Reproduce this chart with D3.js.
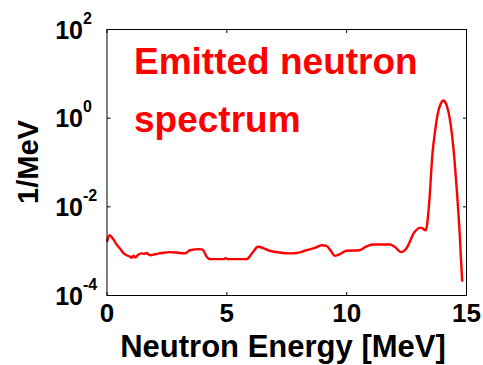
<!DOCTYPE html>
<html>
<head>
<meta charset="utf-8">
<script src="https://cdn.jsdelivr.net/npm/d3@7"></script>
<style>
  html, body { margin: 0; padding: 0; background: #fff; }
  svg { display: block; font-family: Arial, "Liberation Sans", sans-serif; font-weight: bold; }
</style>
</head>
<body>
<div id="chart"></div>
<script>
// emitted neutron spectrum (energy in MeV, intensity in 1/MeV)
const energy = [0.00, 0.10, 0.25, 0.40, 0.54, 0.70, 0.82, 0.95, 1.03, 1.10, 1.18, 1.30, 1.45, 1.55, 1.65, 1.79,
  2.00, 2.30, 2.62, 2.90, 3.25, 3.46, 3.87, 4.00, 4.15, 4.30, 4.85, 4.95, 5.05, 5.82, 6.05, 6.30, 6.79, 7.20,
  7.62, 8.00, 8.32, 8.70, 8.95, 9.15, 9.35, 9.50, 9.65, 9.99, 10.54, 10.80, 11.10, 11.80, 12.00, 12.28, 12.49,
  12.83, 13.10, 13.30, 13.44, 13.58, 13.70, 13.80, 13.92, 14.04, 14.15, 14.29, 14.40, 14.50, 14.60, 14.70, 14.82];
const intensity = [1.62e-3, 2.29e-3, 1.91e-3, 1.41e-3, 1.15e-3, 8.9e-4, 8.1e-4, 7.6e-4, 7.1e-4, 7.9e-4, 7.2e-4,
  8.3e-4, 8.9e-4, 8.7e-4, 9.1e-4, 8.1e-4, 8.5e-4, 9.1e-4, 9.5e-4, 9.3e-4, 8.9e-4, 1.05e-3, 1.11e-3, 1.07e-3,
  7.6e-4, 6.6e-4, 6.6e-4, 6.9e-4, 6.6e-4, 6.6e-4, 8.9e-4, 1.26e-3, 1.02e-3, 9.3e-4, 8.9e-4, 9.3e-4, 1.05e-3,
  1.20e-3, 1.36e-3, 1.32e-3, 1.00e-3, 7.9e-4, 8.3e-4, 1.02e-3, 1.05e-3, 1.26e-3, 1.41e-3, 1.41e-3, 1.26e-3,
  9.5e-4, 1.15e-3, 2.69e-3, 3.39e-3, 2.95e-3, 1.17e-2, 0.158, 0.56, 1.26, 2.09, 2.51, 2.09, 1.06, 0.40, 0.112,
  0.0224, 3.55e-3, 2.04e-4];

const xTicks = [0, 5, 10, 15];
const yTickExp = [2, 0, -2, -4];
const titleLines = ["Emitted neutron", "spectrum"];

const W = 483, H = 365;
const M = { top: 29.5, right: 16.5, bottom: 69.5, left: 107 };

const svg = d3.select("#chart").append("svg").attr("width", W).attr("height", H);

const x = d3.scaleLinear().domain([0, 15]).range([M.left, W - M.right]);
const y = d3.scaleLog().domain([1e-4, 1e2]).range([H - M.bottom, M.top]);

const pts = energy.map((e, i) => [e, intensity[i]]);

// curve
const line = d3.line().x((d) => x(d[0])).y((d) => y(d[1])).curve(d3.curveMonotoneX);
svg.append("path").datum(pts).attr("d", line)
  .attr("fill", "none").attr("stroke", "#ff0000").attr("stroke-width", 2.4).attr("stroke-linejoin", "round");

// frame
svg.append("rect").attr("x", M.left).attr("y", M.top)
  .attr("width", W - M.right - M.left).attr("height", H - M.bottom - M.top)
  .attr("fill", "none").attr("stroke", "#000").attr("stroke-width", 1);

// inward ticks, all four sides (matlab box)
const tl = 3.5;
const tk = svg.append("g").attr("stroke", "#000").attr("stroke-width", 1);
xTicks.forEach((t) => {
  tk.append("line").attr("x1", x(t)).attr("x2", x(t)).attr("y1", y(1e-4)).attr("y2", y(1e-4) - tl);
  tk.append("line").attr("x1", x(t)).attr("x2", x(t)).attr("y1", y(1e2)).attr("y2", y(1e2) + tl);
});
yTickExp.forEach((p) => {
  const v = Math.pow(10, p);
  tk.append("line").attr("x1", x(0)).attr("x2", x(0) + tl).attr("y1", y(v)).attr("y2", y(v));
  tk.append("line").attr("x1", x(15)).attr("x2", x(15) - tl).attr("y1", y(v)).attr("y2", y(v));
});

// x tick labels
svg.append("g").selectAll("text").data(xTicks).join("text")
  .attr("x", (d) => x(d)).attr("y", 322).attr("text-anchor", "middle")
  .attr("font-size", 26).text((d) => d);

// y tick labels 10^n
const yl = svg.append("g").selectAll("g").data(yTickExp).join("g")
  .attr("transform", (d) => `translate(0,${y(Math.pow(10, d))})`);
yl.append("text").attr("x", 83).attr("y", 9).attr("text-anchor", "end").attr("font-size", 25).text("10");
yl.append("text").attr("x", 83).attr("y", -6).attr("font-size", 16).text((d) => d);

// axis titles
svg.append("text").attr("x", 283).attr("y", 357).attr("text-anchor", "middle")
  .attr("font-size", 31).text("Neutron Energy [MeV]");
svg.append("text").attr("transform", "translate(38,162) rotate(-90)").attr("text-anchor", "middle")
  .attr("font-size", 29).text("1/MeV");

// annotation
svg.append("g").selectAll("text").data(titleLines).join("text")
  .attr("x", 134).attr("y", (d, i) => 74 + i * 58)
  .attr("fill", "#ff0000").attr("font-size", 37).text((d) => d);
</script>
</body>
</html>
